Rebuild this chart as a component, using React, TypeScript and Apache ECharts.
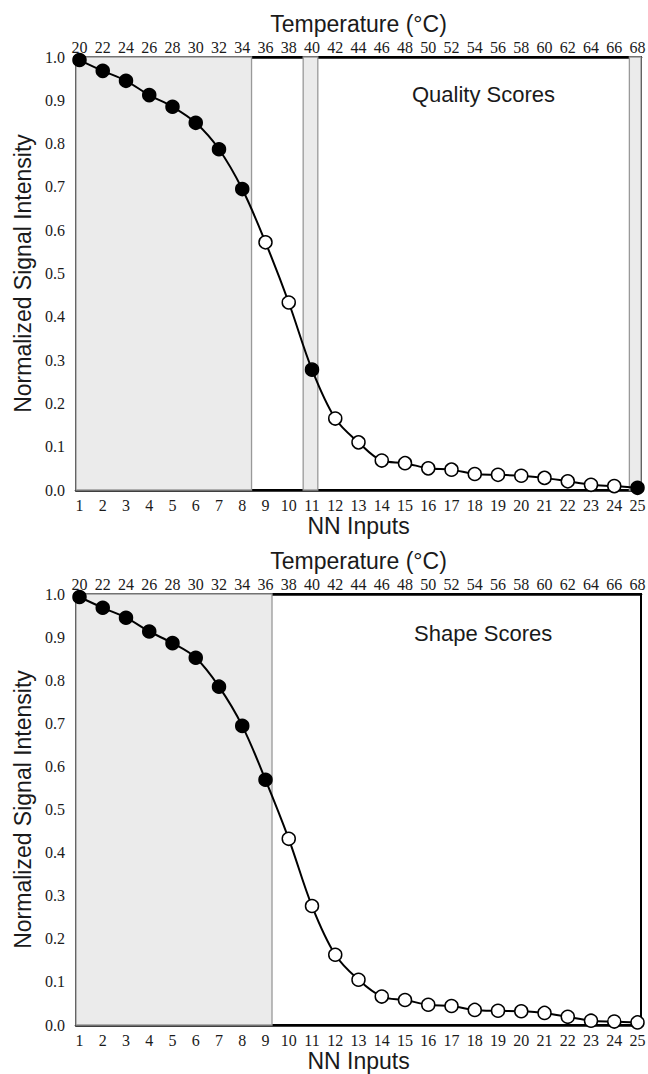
import React, { useEffect, useRef } from "react";
import * as echarts from "echarts";

const nnInputs = [1, 2, 3, 4, 5, 6, 7, 8, 9, 10, 11, 12, 13, 14, 15, 16, 17, 18, 19, 20, 21, 22, 23, 24, 25];
const temperatures = [20, 22, 24, 26, 28, 30, 32, 34, 36, 38, 40, 42, 44, 46, 48, 50, 52, 54, 56, 58, 60, 62, 64, 66, 68];
const yTicks = [0, 0.1, 0.2, 0.3, 0.4, 0.5, 0.6, 0.7, 0.8, 0.9, 1.0];

const qualityIntensity = [0.993, 0.968, 0.945, 0.912, 0.885, 0.848, 0.787, 0.695, 0.572, 0.433, 0.278, 0.165, 0.11, 0.068, 0.062, 0.05, 0.047, 0.037, 0.035, 0.033, 0.028, 0.02, 0.012, 0.009, 0.005];
const shapeIntensity = [0.993, 0.968, 0.945, 0.913, 0.886, 0.852, 0.785, 0.694, 0.569, 0.432, 0.276, 0.163, 0.105, 0.066, 0.058, 0.047, 0.044, 0.035, 0.033, 0.032, 0.028, 0.019, 0.01, 0.008, 0.006];

// NN inputs selected (filled markers)
const qualitySelected = [1, 2, 3, 4, 5, 6, 7, 8, 11, 25];
const shapeSelected = [1, 2, 3, 4, 5, 6, 7, 8, 9];

// shaded bands along the NN-input axis
const qualityBands = [[0.85, 8.4], [10.62, 11.25], [24.65, 25.15]];
const shapeBands = [[0.85, 9.28]];

const X_MIN = 0.85;
const X_MAX = 25.15;
const SERIF = "'Liberation Serif', 'DejaVu Serif', serif";
const SANS = "'Liberation Sans', Arial, sans-serif";
const INK = "#1a1a1a";

function makePanel(idx: number, values: number[], selected: number[], bands: number[][], topNameGap: number) {
  const xBottom = {
    type: "value",
    gridIndex: idx,
    position: "bottom",
    min: X_MIN,
    max: X_MAX,
    name: "NN Inputs",
    nameLocation: "middle",
    nameGap: 24,
    nameTextStyle: { fontFamily: SANS, fontSize: 23, color: INK },
    axisLine: { show: true, onZero: false, lineStyle: { color: "#000", width: 2.5 } },
    axisTick: { show: false },
    splitLine: { show: false },
    axisLabel: {
      customValues: nnInputs,
      fontFamily: SERIF,
      fontSize: 16,
      color: INK,
      margin: 7,
    },
  };
  const xTop = {
    type: "value",
    gridIndex: idx,
    position: "top",
    min: X_MIN,
    max: X_MAX,
    name: "Temperature (°C)",
    nameLocation: "middle",
    nameGap: topNameGap,
    nameTextStyle: { fontFamily: SANS, fontSize: 23, color: INK },
    axisLine: { show: true, onZero: false, lineStyle: { color: "#000", width: 2.5 } },
    axisTick: { show: false },
    splitLine: { show: false },
    axisLabel: {
      customValues: nnInputs,
      formatter: (v: number) => String(temperatures[nnInputs.indexOf(Math.round(v))]),
      fontFamily: SERIF,
      fontSize: 16,
      color: INK,
      margin: 2,
    },
  };
  const yAxis = {
    type: "value",
    gridIndex: idx,
    min: 0,
    max: 1,
    interval: 0.1,
    name: "Normalized Signal Intensity",
    nameLocation: "middle",
    nameGap: 42,
    nameTextStyle: { fontFamily: SANS, fontSize: 23, color: INK },
    axisLine: { show: true, lineStyle: { color: "#000", width: 2 } },
    axisTick: { show: false },
    splitLine: { show: false },
    axisLabel: {
      customValues: yTicks,
      formatter: (v: number) => v.toFixed(1),
      fontFamily: SERIF,
      fontSize: 16,
      color: INK,
      margin: 11,
    },
  };
  const series = {
    type: "line",
    xAxisIndex: idx * 2,
    yAxisIndex: idx,
    smooth: 0.35,
    symbol: "circle",
    symbolSize: 13,
    lineStyle: { color: "#000", width: 2 },
    data: nnInputs.map((n, i) => ({
      value: [n, values[i]],
      itemStyle: {
        color: selected.includes(n) ? "#000" : "#fff",
        borderColor: "#000",
        borderWidth: 1.5,
      },
    })),
    z: 5,
    markArea: {
      silent: true,
      itemStyle: { color: "#ebebeb", borderColor: "#999", borderWidth: 1.3 },
      data: bands.map((b) => [{ xAxis: b[0] }, { xAxis: b[1] }]),
    },
  };
  return { xAxes: [xBottom, xTop], yAxis, series };
}

export default function App() {
  const ref = useRef<HTMLDivElement>(null);
  useEffect(() => {
    if (!ref.current) return;
    const chart = echarts.init(ref.current, undefined, { renderer: "svg" });
    const p1 = makePanel(0, qualityIntensity, qualitySelected, qualityBands, 22);
    const p2 = makePanel(1, shapeIntensity, shapeSelected, shapeBands, 22);
    chart.setOption({
      animation: false,
      backgroundColor: "#fff",
      grid: [
        { left: 76, top: 57, width: 565, height: 433, show: true, borderColor: "#000", borderWidth: 2, backgroundColor: "transparent", outerBoundsMode: "none", containLabel: false },
        { left: 76, top: 594, width: 565, height: 431, show: true, borderColor: "#000", borderWidth: 2, backgroundColor: "transparent", outerBoundsMode: "none", containLabel: false },
      ],
      xAxis: [...p1.xAxes, ...p2.xAxes],
      yAxis: [p1.yAxis, p2.yAxis],
      series: [p1.series, p2.series],
      graphic: [
        { type: "text", left: 412, top: 83, style: { text: "Quality Scores", fontFamily: SANS, fontSize: 22, fill: INK } },
        { type: "text", left: 414, top: 622, style: { text: "Shape Scores", fontFamily: SANS, fontSize: 22, fill: INK } },
      ],
    });
    return () => chart.dispose();
  }, []);
  return <div ref={ref} style={{ position: "fixed", left: 0, top: 0, width: 648, height: 1074 }} />;
}
